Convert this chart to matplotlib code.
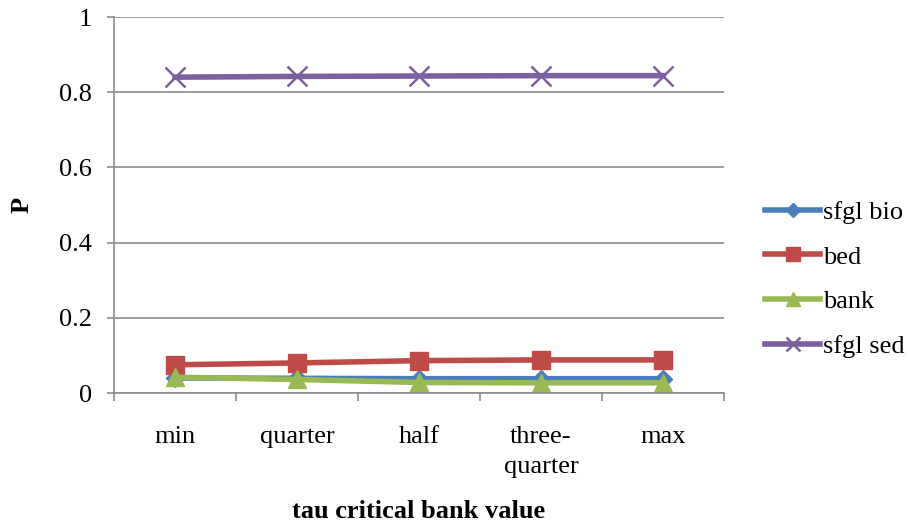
import matplotlib
matplotlib.use("Agg")
import matplotlib.pyplot as plt
import numpy as np

categories = ["min", "quarter", "half", "three-\nquarter", "max"]
sfgl_bio = [0.040, 0.039, 0.038, 0.038, 0.038]
bed = [0.075, 0.080, 0.086, 0.088, 0.088]
bank = [0.042, 0.036, 0.028, 0.027, 0.027]
sfgl_sed = [0.840, 0.842, 0.843, 0.844, 0.844]

plt.rcParams['font.family'] = ['Liberation Serif', 'DejaVu Serif']
FS = 19

fig = plt.figure(figsize=(9.09, 5.22), dpi=100)
ax = fig.add_axes([114/909, (522-393)/522, (724-114)/909, (393-17)/522])

x = np.arange(len(categories))
ax.plot(x, sfgl_bio, color='#4a7ebb', lw=4, marker='D', ms=9, label='sfgl bio')
ax.plot(x, bed, color='#be4b48', lw=4, marker='s', ms=13, label='bed')
ax.plot(x, bank, color='#98b954', lw=4, marker='^', ms=13, label='bank')
ax.plot(x, sfgl_sed, color='#7d60a0', lw=4, marker='x', ms=14, mew=1.8,
        label='sfgl sed')

ax.set_xlim(-0.5, len(categories) - 0.5)
ax.set_ylim(0, 1)
ax.set_yticks(np.arange(0, 1.01, 0.2))
ax.set_yticklabels(['0', '0.2', '0.4', '0.6', '0.8', '1'])
ax.yaxis.grid(True, color='#8c8c8c', lw=1.2)
ax.set_axisbelow(True)

# category boundary ticks on x
ax.set_xticks(np.arange(-0.5, len(categories), 1.0))
ax.set_xticklabels([])
ax.set_xticks(x, minor=True)
ax.set_xticklabels(categories, minor=True, fontsize=FS, linespacing=1.45,
                   va='top')
ax.tick_params(axis='x', which='major', length=6, color='#8c8c8c', width=1.2)
ax.tick_params(axis='x', which='minor', length=0, pad=24)
ax.tick_params(axis='y', length=5, color='#8c8c8c', width=1.2,
               labelsize=FS, pad=11)

for s in ['top', 'right']:
    ax.spines[s].set_visible(False)
for s in ['left', 'bottom']:
    ax.spines[s].set_color('#8c8c8c')
    ax.spines[s].set_linewidth(1.2)

ax.set_xlabel('tau critical bank value', fontsize=FS, fontweight='bold',
              labelpad=16)
ax.set_ylabel('P', fontsize=FS, fontweight='bold', labelpad=18)

ax.legend(loc='upper left', bbox_to_anchor=(1.05, 0.54), frameon=False,
          fontsize=FS, handlelength=2.08, handletextpad=0.12,
          labelspacing=0.8, borderaxespad=0, markerscale=0.75)

fig.savefig('out.png', dpi=100)
